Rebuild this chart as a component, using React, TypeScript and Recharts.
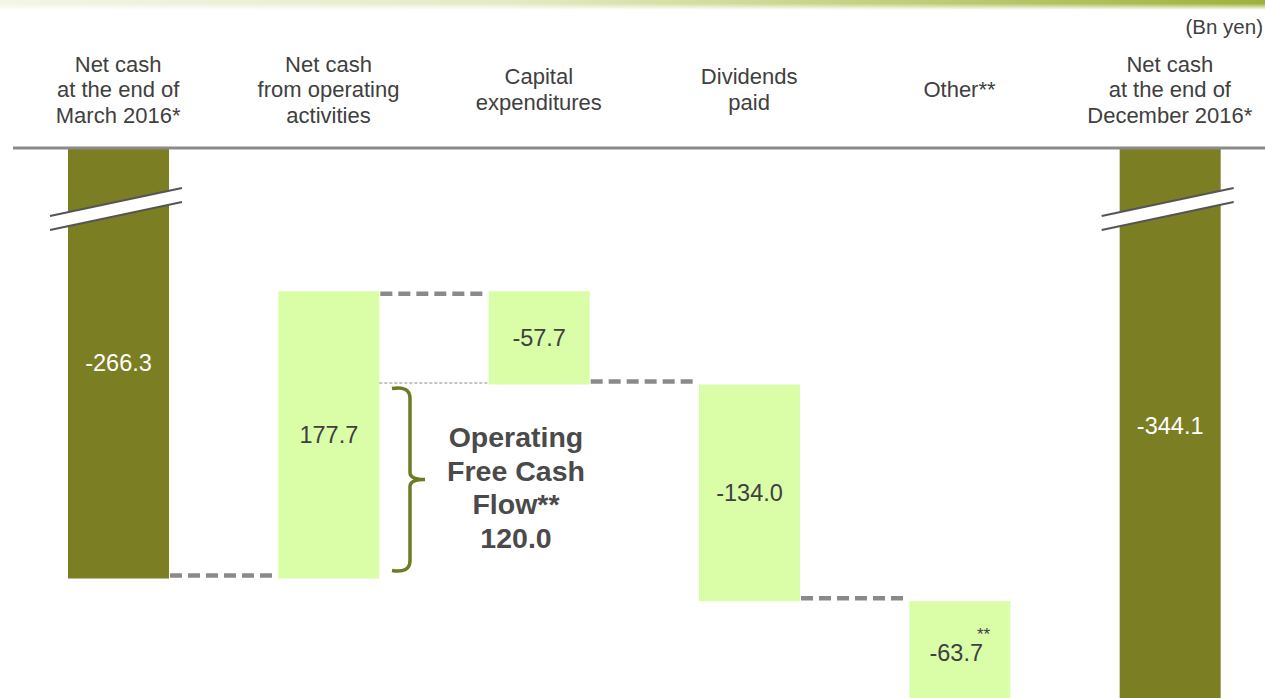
// App.tsx
// Waterfall chart: net cash March 2016 -> December 2016 (Recharts)

import { BarChart, Bar, XAxis, YAxis, LabelList } from 'recharts'

const categories = [
  'Net cash\nat the end of\nMarch 2016*',
  'Net cash\nfrom operating\nactivities',
  'Capital\nexpenditures',
  'Dividends\npaid',
  'Other**',
  'Net cash\nat the end of\nDecember 2016*',
]
const changes = [-266.3, 177.7, -57.7, -134.0, -63.7, -344.1]
const isTotal = [true, false, false, false, false, true]
const labelNotes = ['', '', '', '', '**', '']
const yDomain = [-360, 0]

// operating free cash flow = operating activities + capex
const ofcfFrom = 1
const ofcfTo = 2
const ofcfValue = changes[ofcfFrom] + changes[ofcfTo]

const FONT = '"Liberation Sans", Arial, Helvetica, sans-serif'
const DARK = '#7b7e22'
const LIGHT = '#dafda8'
const TEXT = '#404040'

const CHART_W = 1280
const CHART_H = 730
const MARGIN = { top: 0, right: 5, bottom: 0, left: 13 }
const AXIS_H = 148
const BAR_W = 101
const BAND = (CHART_W - MARGIN.left - MARGIN.right) / categories.length
const PLOT_H = CHART_H - AXIS_H - MARGIN.top - MARGIN.bottom

const yPix = (v: number) =>
  MARGIN.top + AXIS_H + ((yDomain[1] - v) / (yDomain[1] - yDomain[0])) * PLOT_H

// build waterfall rows
let running = 0
const rows = categories.map((name, i) => {
  const total = isTotal[i]
  const start = total ? 0 : running
  const end = total ? changes[i] : running + changes[i]
  running = end
  return {
    name,
    range: [Math.min(start, end), Math.max(start, end)],
    label: changes[i].toFixed(1),
    endsAtTop: end > start,
    total,
    note: labelNotes[i],
  }
})

function WaterfallBar(props: any) {
  const { x, width, index } = props
  const top = Math.min(props.y, props.y + props.height)
  const h = Math.abs(props.height)
  const row = rows[index]
  const endY = row.endsAtTop ? top + 2.5 : top + h - 3
  const gap = BAND - width
  const right = x + width
  return (
    <g>
      <rect x={x} y={top} width={width} height={h} fill={row.total ? DARK : LIGHT} />
      {index < rows.length - 1 && (
        <line
          x1={right + 1}
          x2={right + gap - 2}
          y1={endY}
          y2={endY}
          stroke="#8a8a8a"
          strokeWidth={4.5}
          strokeDasharray="12 6"
        />
      )}
      {index === ofcfTo && (
        <line
          x1={x - gap}
          x2={x}
          y1={top + h - 1.5}
          y2={top + h - 1.5}
          stroke="#8a8a8a"
          strokeWidth={1}
          strokeDasharray="3 2"
        />
      )}
      {row.total && (
        <g>
          <polygon
            points={`${x - 18},${top + 68} ${right + 13},${top + 40} ${right + 13},${top + 54} ${x - 18},${top + 82}`}
            fill="#fff"
          />
          <line x1={x - 18} y1={top + 68} x2={right + 13} y2={top + 40} stroke="#555" strokeWidth={2} />
          <line x1={x - 18} y1={top + 82} x2={right + 13} y2={top + 54} stroke="#555" strokeWidth={2} />
        </g>
      )}
    </g>
  )
}

function ValueLabel(props: any) {
  const { x, width, index, value } = props
  const top = Math.min(props.y, props.y + props.height)
  const h = Math.abs(props.height)
  const row = rows[index]
  const cx = x + width / 2
  const cy = top + h / 2
  return (
    <text
      x={cx}
      y={cy + 8}
      textAnchor="middle"
      fontFamily={FONT}
      fontSize={23.5}
      fill={row.total ? '#ffffff' : TEXT}
    >
      {value}
      {row.note && (
        <tspan dx={-6} dy={-21} fontSize={17}>
          {row.note}
        </tspan>
      )}
    </text>
  )
}

function CategoryTick(props: any) {
  const { x, payload } = props
  const lines = String(payload.value).split('\n')
  const mid = AXIS_H - 51
  return (
    <text textAnchor="middle" fontFamily={FONT} fontSize={22} fill={TEXT}>
      {lines.map((ln, i) => (
        <tspan key={i} x={x} y={mid + (i - (lines.length - 1) / 2) * 25.5}>
          {ln}
        </tspan>
      ))}
    </text>
  )
}

function Annotations() {
  const barRight = MARGIN.left + BAND * (ofcfFrom + 0.5) + BAR_W / 2
  const yTop = yPix(rows[ofcfTo].range[0]) + 4
  const yBot = yPix(rows[0].range[0]) - 8
  const mid = (yTop + yBot) / 2
  const xl = barRight + 13
  const xv = barRight + 31
  const xn = barRight + 46
  const tx = barRight + 137
  const textLines = ['Operating', 'Free Cash', 'Flow**', ofcfValue.toFixed(1)]
  return (
    <svg
      width={1265}
      height={698}
      style={{ position: 'absolute', left: 0, top: 0, pointerEvents: 'none' }}
    >
      <text x={1263} y={34} textAnchor="end" fontFamily={FONT} fontSize={20.5} fill={TEXT}>
        (Bn yen)
      </text>
      <path
        d={`M${xl},${yTop} Q${xv},${yTop - 3} ${xv},${yTop + 10} L${xv},${mid - 7} Q${xv},${mid} ${xn},${mid} Q${xv},${mid} ${xv},${mid + 7} L${xv},${yBot - 10} Q${xv},${yBot + 3} ${xl},${yBot}`}
        fill="none"
        stroke="#6e7a24"
        strokeWidth={3.5}
      />
      <text textAnchor="middle" fontFamily={FONT} fontSize={28.5} fontWeight="bold" fill="#4a4a4a">
        {textLines.map((ln, i) => (
          <tspan key={i} x={tx} y={mid + (i - 1.5) * 33.5 + 18}>
            {ln}
          </tspan>
        ))}
      </text>
    </svg>
  )
}

export default function App() {
  return (
    <div
      style={{
        position: 'absolute',
        left: 0,
        top: 0,
        width: 1265,
        height: 698,
        overflow: 'hidden',
        background: '#fff',
      }}
    >
      <div
        style={{
          position: 'absolute',
          left: 0,
          top: 0,
          width: 1265,
          height: 10,
          background: 'linear-gradient(to right, #f3f5e6 0%, #e4ebc6 40%, #c2d07e 70%, #9fb13c 100%)',
          WebkitMaskImage: 'linear-gradient(to bottom, #000 35%, transparent 100%)',
          maskImage: 'linear-gradient(to bottom, #000 35%, transparent 100%)',
        }}
      />
      <BarChart
        width={CHART_W}
        height={CHART_H}
        data={rows}
        margin={MARGIN}
        barSize={BAR_W}
        style={{ position: 'absolute', left: 0, top: 0 }}
      >
        <XAxis
          dataKey="name"
          orientation="top"
          height={AXIS_H}
          interval={0}
          tickLine={false}
          axisLine={{ stroke: '#8a8a8a', strokeWidth: 3 }}
          tick={<CategoryTick />}
        />
        <YAxis hide domain={yDomain} allowDataOverflow />
        <Bar dataKey="range" shape={<WaterfallBar />} isAnimationActive={false}>
          <LabelList dataKey="label" content={<ValueLabel />} />
        </Bar>
      </BarChart>
      <Annotations />
    </div>
  )
}
